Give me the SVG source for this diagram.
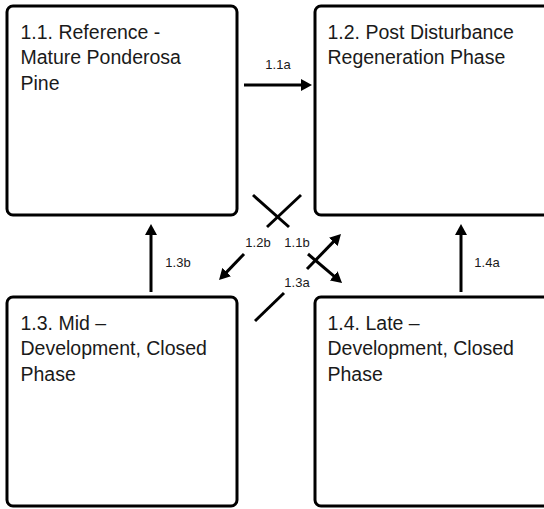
<svg xmlns="http://www.w3.org/2000/svg" width="544" height="509" viewBox="0 0 544 509">
<style>
.box{fill:#fff;stroke:#000;stroke-width:3}
.t{font-family:"Liberation Sans",Arial,sans-serif;font-size:19.5px;fill:#1a1a1a}
.l{font-family:"Liberation Sans",Arial,sans-serif;font-size:13px;fill:#1a1a1a;text-anchor:middle}
.c{stroke:#000;stroke-width:3;fill:none}
</style>
<defs>
<marker id="ah" markerUnits="userSpaceOnUse" markerWidth="11" markerHeight="12" refX="7" refY="6" orient="auto">
<path d="M0,0 L11,6 L0,12 z" fill="#000"/>
</marker>
</defs>
<rect width="544" height="509" fill="#fff"/>
<g id="n11">
<rect class="box" x="7" y="6" width="230" height="209" rx="6"/>
<text class="t" x="20.5" y="38.5">1.1. Reference -</text>
<text class="t" x="20.5" y="64">Mature Ponderosa</text>
<text class="t" x="20.5" y="89.5">Pine</text>
</g>
<g id="n12">
<rect class="box" x="315" y="6" width="240" height="209" rx="6"/>
<text class="t" x="327.5" y="38.5">1.2. Post Disturbance</text>
<text class="t" x="327.5" y="64">Regeneration Phase</text>
</g>
<g id="n13">
<rect class="box" x="7" y="297" width="230" height="209" rx="6"/>
<text class="t" x="20.5" y="329.5">1.3. Mid –</text>
<text class="t" x="20.5" y="355">Development, Closed</text>
<text class="t" x="20.5" y="380.5">Phase</text>
</g>
<g id="n14">
<rect class="box" x="315" y="297" width="240" height="209" rx="6"/>
<text class="t" x="327.5" y="329.5">1.4. Late –</text>
<text class="t" x="327.5" y="355">Development, Closed</text>
<text class="t" x="327.5" y="380.5">Phase</text>
</g>
<g id="connectors">
<line class="c" x1="244" y1="85" x2="308" y2="85" marker-end="url(#ah)"/>
<text class="l" x="278" y="69">1.1a</text>
<line class="c" x1="151" y1="292" x2="151" y2="228" marker-end="url(#ah)"/>
<text class="l" x="178" y="267">1.3b</text>
<line class="c" x1="461" y1="292" x2="461" y2="228" marker-end="url(#ah)"/>
<text class="l" x="487" y="267">1.4a</text>
<line class="c" x1="253" y1="195" x2="289" y2="227"/>
<line class="c" x1="301" y1="195" x2="267" y2="227"/>
<line class="c" x1="244" y1="254" x2="221.8" y2="277.1" marker-end="url(#ah)"/>
<text class="l" x="258" y="246.5">1.2b</text>
<line class="c" x1="307" y1="269" x2="338.2" y2="236.9" marker-end="url(#ah)"/>
<text class="l" x="297" y="246.5">1.1b</text>
<line class="c" x1="308" y1="254" x2="339" y2="280.4" marker-end="url(#ah)"/>
<text class="l" x="297" y="286.5">1.3a</text>
<line class="c" x1="255" y1="321" x2="284" y2="293"/>
</g>
</svg>
